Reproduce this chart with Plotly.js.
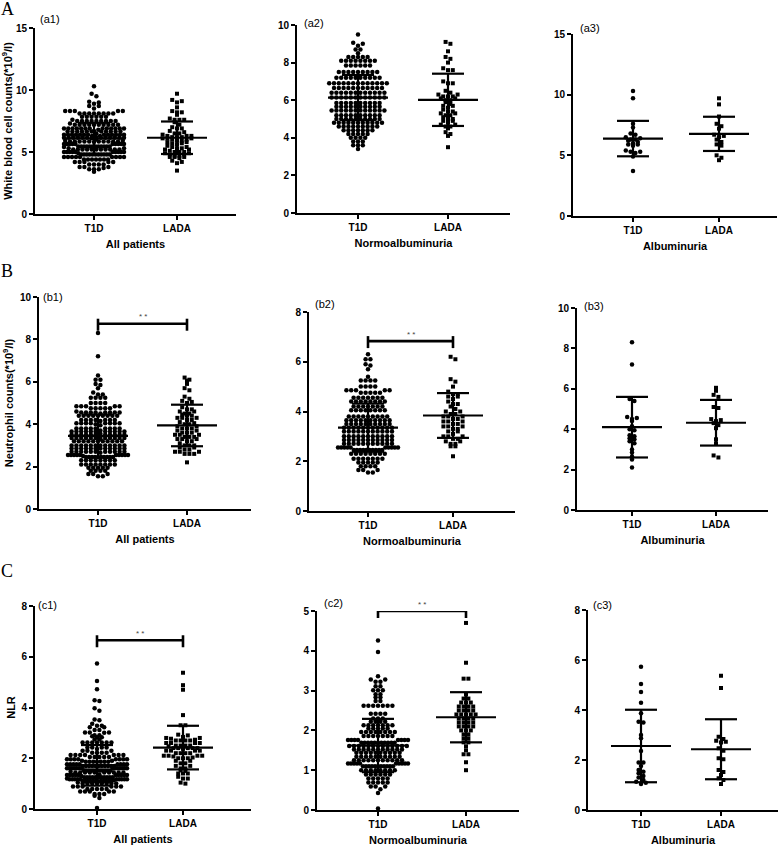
<!DOCTYPE html>
<html><head><meta charset="utf-8">
<script src="https://cdn.plot.ly/plotly-3.0.1.min.js"></script>
<style>body{margin:0;background:#fff}#chart{width:778px;height:847px}</style>
</head><body><div id="chart"></div>
<script>
// ---------------- DATA ----------------
const groups = ['T1D', 'LADA'];
const subsetTitles = ['All patients', 'Normoalbuminuria', 'Albuminuria'];
const measureTitles = ['White blood cell counts(*10<sup>9</sup>/l)', 'Neutrophil counts(*10<sup>9</sup>/l)', 'NLR'];
const panelLabels = ['(a1)','(a2)','(a3)','(b1)','(b2)','(b3)','(c1)','(c2)','(c3)'];
const rowLetters = ['A','B','C'];

// White blood cell counts
const wbcT1dNormo = [9.5, 9.05, 9.0, 8.9, 8.7, 8.7, 8.5,
 8.3, 8.3, 8.3, 8.3, 8.3,
 8.1, 8.1, 8.1, 8.1, 8.1, 8.1, 8.1, 8.1,
 7.85, 7.85, 7.85, 7.85, 7.85, 7.85,
 7.5, 7.5, 7.5, 7.5, 7.5, 7.5, 7.5, 7.5, 7.5,
 7.2, 7.2, 7.2, 7.2, 7.2, 7.2, 7.2, 7.2, 7.2, 7.2,
 6.9, 6.9, 6.9, 6.9, 6.9, 6.9, 6.9, 6.9, 6.9, 6.9, 6.9, 6.9, 6.9,
 6.65, 6.65, 6.65, 6.65, 6.65, 6.65, 6.65, 6.65, 6.65, 6.65, 6.65,
 6.4, 6.4, 6.4, 6.4, 6.4, 6.4, 6.4, 6.4, 6.4, 6.4, 6.4, 6.4,
 6.15, 6.15, 6.15, 6.15, 6.15, 6.15, 6.15, 6.15, 6.15, 6.15, 6.15, 6.15,
 5.85, 5.85, 5.85, 5.85, 5.85, 5.85, 5.85, 5.85, 5.85, 5.85,
 5.65, 5.65, 5.65, 5.65, 5.65, 5.65, 5.65, 5.65, 5.65, 5.65,
 5.45, 5.45, 5.45, 5.45, 5.45, 5.45, 5.45, 5.45, 5.45, 5.45, 5.45, 5.45,
 5.2, 5.2, 5.2, 5.2, 5.2, 5.2, 5.2, 5.2, 5.2, 5.2,
 5.0, 5.0, 5.0, 5.0, 5.0, 5.0, 5.0, 5.0, 5.0, 5.0,
 4.8, 4.8, 4.8, 4.8, 4.8, 4.8, 4.8, 4.8, 4.8, 4.8, 4.8,
 4.6, 4.6, 4.6, 4.6, 4.6, 4.6, 4.6, 4.6, 4.6,
 4.4, 4.4, 4.4, 4.4, 4.4, 4.4, 4.4,
 4.2, 4.2, 4.2, 4.2, 4.2,
 4.0, 4.0, 4.0, 4.0,
 3.8, 3.8, 3.8,
 3.6, 3.6, 3.6,
 3.4];
const wbcLadaNormo = [9.1, 9.0, 8.6, 8.3, 8.2, 8.0, 7.7, 7.6, 7.6, 7.0, 6.9, 6.9, 6.5, 6.4, 6.3, 6.3, 6.2, 6.2, 6.2, 6.1,
 6.1, 6.0, 6.0, 5.9, 5.8, 5.7, 5.7, 5.6, 5.5, 5.4, 5.4, 5.3, 5.3, 5.2, 5.2, 5.1, 5.0, 5.0, 4.9, 4.9,
 4.8, 4.7, 4.7, 4.6, 4.6, 4.5, 4.3, 4.2, 4.1, 3.5];
const wbcT1dAlbu = [10.3, 9.7, 7.6, 7.3, 6.8, 6.7, 6.5, 6.4, 6.3, 6.3, 6.2, 6.1, 6.0, 5.9, 5.9, 5.8, 5.4, 5.3, 5.3, 5.2, 4.9, 3.7];
const wbcLadaAlbu = [9.7, 9.2, 8.2, 7.6, 7.4, 7.2, 6.7, 6.6, 6.5, 6.3, 6.1, 5.9, 5.8, 5.0, 4.8, 4.6];

// Neutrophil counts
const neutT1dNormo = [6.3, 6.1, 6.1, 5.9, 5.85, 5.7, 5.4,
 5.25, 5.25, 5.25, 5.25,
 5.0, 5.0, 5.0, 5.0,
 4.85, 4.85, 4.85, 4.85, 4.85,
 4.75, 4.75, 4.75, 4.75, 4.75,
 4.55, 4.55, 4.55, 4.55, 4.55, 4.55, 4.55,
 4.4, 4.4, 4.4, 4.4, 4.4, 4.4, 4.4, 4.4,
 4.2, 4.2, 4.2, 4.2, 4.2, 4.2, 4.2,
 4.05, 4.05, 4.05, 4.05, 4.05, 4.05, 4.05, 4.05,
 3.8, 3.8, 3.8, 3.8, 3.8, 3.8, 3.8, 3.8, 3.8,
 3.65, 3.65, 3.65, 3.65, 3.65, 3.65, 3.65, 3.65, 3.65, 3.65,
 3.5, 3.5, 3.5, 3.5, 3.5, 3.5, 3.5, 3.5, 3.5, 3.5,
 3.35, 3.35, 3.35, 3.35, 3.35, 3.35, 3.35, 3.35, 3.35, 3.35, 3.35,
 3.2, 3.2, 3.2, 3.2, 3.2, 3.2, 3.2, 3.2, 3.2, 3.2, 3.2,
 3.0, 3.0, 3.0, 3.0, 3.0, 3.0, 3.0, 3.0, 3.0, 3.0, 3.0,
 2.85, 2.85, 2.85, 2.85, 2.85, 2.85, 2.85, 2.85, 2.85, 2.85, 2.85,
 2.7, 2.7, 2.7, 2.7, 2.7, 2.7, 2.7, 2.7, 2.7, 2.7, 2.7,
 2.55, 2.55, 2.55, 2.55, 2.55, 2.55, 2.55, 2.55, 2.55, 2.55,
 2.45, 2.45, 2.45, 2.45, 2.45, 2.45, 2.45, 2.45, 2.45, 2.45,
 2.3, 2.3, 2.3, 2.3, 2.3, 2.3, 2.3, 2.3,
 2.1, 2.1, 2.1, 2.1, 2.1, 2.1, 2.1,
 1.95, 1.95, 1.95, 1.95, 1.95,
 1.8, 1.8, 1.8, 1.8,
 1.65, 1.65, 1.65,
 1.55, 1.55];
const neutLadaNormo = [6.2, 6.1, 5.3, 5.2, 5.0, 4.8, 4.7, 4.7, 4.6, 4.6, 4.5, 4.4, 4.3, 4.3, 4.2, 4.1, 4.0, 4.0, 3.9, 3.9,
 3.8, 3.8, 3.8, 3.7, 3.7, 3.6, 3.6, 3.6, 3.5, 3.5, 3.4, 3.4, 3.4, 3.3, 3.3, 3.2, 3.2, 3.1, 3.0, 3.0,
 3.0, 2.9, 2.9, 2.8, 2.8, 2.7, 2.7, 2.6, 2.6, 2.2];
const neutT1dAlbu = [8.3, 7.2, 5.5, 5.4, 4.6, 4.55, 4.5, 4.4, 4.15, 4.0, 3.95, 3.7, 3.65, 3.55, 3.5, 3.4, 3.3, 3.0, 2.85, 2.65, 2.5, 2.1];
const neutLadaAlbu = [6.05, 5.9, 5.7, 5.6, 5.1, 5.05, 4.5, 4.45, 4.4, 4.3, 4.2, 4.05, 3.5, 3.3, 2.7, 2.6];

// NLR
const nlrT1dNormo = [4.26, 3.97, 3.36, 3.28, 3.28, 3.22, 3.22, 3.11, 3.11, 3.01, 3.01, 3.01, 2.91, 2.91, 2.83, 2.83, 2.74, 2.74,
 2.62, 2.62, 2.62, 2.62, 2.62, 2.62, 2.62,
 2.42, 2.42, 2.42, 2.42,
 2.3, 2.3, 2.3,
 2.22, 2.22, 2.22, 2.22,
 2.13, 2.13, 2.13, 2.13, 2.13, 2.13, 2.13,
 2.05, 2.05, 2.05, 2.05, 2.05,
 1.96, 1.96, 1.96, 1.96, 1.96, 1.96, 1.96, 1.96,
 1.86, 1.86, 1.86, 1.86, 1.86, 1.86, 1.86,
 1.76, 1.76, 1.76, 1.76, 1.76, 1.76, 1.76, 1.76,
 1.69, 1.69, 1.69, 1.69, 1.69, 1.69, 1.69, 1.69, 1.69, 1.69, 1.69,
 1.61, 1.61, 1.61, 1.61, 1.61, 1.61, 1.61, 1.61, 1.61, 1.61, 1.61, 1.61, 1.61,
 1.52, 1.52, 1.52, 1.52, 1.52, 1.52, 1.52, 1.52, 1.52, 1.52, 1.52,
 1.44, 1.44, 1.44, 1.44, 1.44, 1.44, 1.44, 1.44, 1.44, 1.44,
 1.34, 1.34, 1.34, 1.34, 1.34, 1.34, 1.34, 1.34, 1.34, 1.34,
 1.25, 1.25, 1.25, 1.25, 1.25, 1.25, 1.25, 1.25, 1.25, 1.25, 1.25,
 1.17, 1.17, 1.17, 1.17, 1.17, 1.17, 1.17, 1.17, 1.17, 1.17,
 1.1, 1.1, 1.1, 1.1, 1.1, 1.1, 1.1, 1.1, 1.1, 1.1, 1.1,
 1.0, 1.0, 1.0, 1.0, 1.0, 1.0, 1.0, 1.0,
 0.89, 0.89, 0.89, 0.89, 0.89, 0.89,
 0.79, 0.79, 0.79, 0.79, 0.79,
 0.69, 0.69, 0.69, 0.69, 0.69,
 0.59, 0.59, 0.59,
 0.52, 0.43, 0.04];
const nlrLadaNormo = [4.7, 3.7, 3.3, 3.3, 2.9, 2.8, 2.8, 2.7, 2.7, 2.7, 2.6, 2.6, 2.6, 2.6, 2.5, 2.5, 2.5, 2.5, 2.4, 2.4,
 2.4, 2.4, 2.4, 2.3, 2.3, 2.3, 2.3, 2.2, 2.2, 2.2, 2.2, 2.1, 2.1, 2.1, 2.1, 2.0, 2.0, 2.0, 1.9, 1.9,
 1.8, 1.8, 1.7, 1.7, 1.6, 1.5, 1.4, 1.4, 1.2, 1.0];
const nlrT1dAlbu = [5.73, 5.04, 4.72, 4.29, 3.87, 3.53, 3.5, 3.0, 2.87, 2.36, 1.9, 1.9, 1.76, 1.6, 1.53, 1.47, 1.36, 1.3, 1.2, 1.13, 1.09, 1.04];
const nlrLadaAlbu = [5.37, 4.88, 2.93, 2.84, 2.77, 2.73, 2.7, 2.47, 2.37, 2.07, 2.03, 1.6, 1.52, 1.4, 1.27, 1.2, 1.04];

// Mean and SD lines as drawn ([T1D, LADA])
const wbcMeanAll = [6.1, 6.15],   wbcSdAll = [1.25, 1.31];
const wbcMeanNormo = [6.14, 6.02], wbcSdNormo = [1.2, 1.39];
const wbcMeanAlbu = [6.38, 6.77], wbcSdAlbu = [1.46, 1.41];
const neutMeanAll = [3.45, 3.94], neutSdAll = [1.0, 0.98];
const neutMeanNormo = [3.35, 3.84], neutSdNormo = [0.97, 0.9];
const neutMeanAlbu = [4.1, 4.32], neutSdAlbu = [1.5, 1.13];
const nlrMeanAll = [1.72, 2.42], nlrSdAll = [0.8, 0.86];
const nlrMeanNormo = [1.62, 2.33], nlrSdNormo = [0.67, 0.63];
const nlrMeanAlbu = [2.56, 2.43], nlrSdAlbu = [1.45, 1.2];

// Significance brackets
const sigPanels = [3, 4, 6, 7];
const sigHeights = [8.74, 6.83, 6.65, 5.0];
const sigLabels = ['* *', '* *', '* *', '* *'];

// ---------------- LAYOUT GEOMETRY (pixels) ----------------
const W = 778, H = 847;
// [left, right, top, bottom, xT1D, xLADA, ymax, dtick]
const geom = [
  [35, 236, 28, 214, 94, 177, 15, 5],
  [297, 510, 25, 213, 358, 448, 10, 2],
  [573, 777, 34, 216, 633, 719, 15, 5],
  [39, 251, 297, 509, 98, 187, 10, 2],
  [309, 515, 312, 511, 368, 453, 8, 2],
  [577, 768, 308, 510, 632, 716, 10, 2],
  [35, 251, 606, 809, 97, 183, 8, 2],
  [317, 519, 611, 810, 378, 466, 5, 1],
  [588, 778, 610, 810, 641, 721, 8, 2]
];
const labelPos = [[50,19],[314,23],[590,28],[53,297],[325,304],[594,306],[47,605],[333,603],[602,605]];
const letterPos = [[7,9],[7,271],[7,571]];
const ROW_H = 3.0, DOT_DX = 4.8, MAX_W = 60;

const panelSeries = [
  [wbcT1dNormo.concat(wbcT1dAlbu), wbcLadaNormo.concat(wbcLadaAlbu), wbcMeanAll, wbcSdAll],
  [wbcT1dNormo, wbcLadaNormo, wbcMeanNormo, wbcSdNormo],
  [wbcT1dAlbu, wbcLadaAlbu, wbcMeanAlbu, wbcSdAlbu],
  [neutT1dNormo.concat(neutT1dAlbu), neutLadaNormo.concat(neutLadaAlbu), neutMeanAll, neutSdAll],
  [neutT1dNormo, neutLadaNormo, neutMeanNormo, neutSdNormo],
  [neutT1dAlbu, neutLadaAlbu, neutMeanAlbu, neutSdAlbu],
  [nlrT1dNormo.concat(nlrT1dAlbu), nlrLadaNormo.concat(nlrLadaAlbu), nlrMeanAll, nlrSdAll],
  [nlrT1dNormo, nlrLadaNormo, nlrMeanNormo, nlrSdNormo],
  [nlrT1dAlbu, nlrLadaAlbu, nlrMeanAlbu, nlrSdAlbu]
];

// Prism-like scatter: dots grouped into rows (greedy from the top), spread evenly across each row
function swarm(vals, yPx) {
  const idx = vals.map((v, i) => i).sort((a, b) => vals[b] - vals[a]);
  const rows = [];
  let cur = null, top = null;
  idx.forEach(i => {
    if (cur === null || (top - vals[i]) * yPx >= ROW_H) { cur = []; rows.push(cur); top = vals[i]; }
    cur.push(i);
  });
  const out = new Array(vals.length);
  rows.forEach(list => {
    const n = list.length;
    let s = DOT_DX;
    if ((n - 1) * s > MAX_W) s = MAX_W / (n - 1);
    const order = [];
    for (let a = 0, b = n - 1; a <= b; a++, b--) { order.push(a); if (a !== b) order.push(b); }
    list.forEach((i, j) => { out[i] = (order[j] - (n - 1) / 2) * s; });
  });
  return out;
}

const FONT = 'Liberation Sans, Arial, sans-serif';
const traces = [];
const layout = {
  width: W, height: H, margin: {l: 0, r: 0, t: 0, b: 0},
  paper_bgcolor: '#fff', plot_bgcolor: 'rgba(0,0,0,0)', showlegend: false,
  font: {family: FONT, color: '#000'},
  annotations: []
};

geom.forEach((g, p) => {
  const [L, R, T, B, xa, xb, ymax, dtick] = g;
  const k = p + 1;
  const xr = 'x' + (k === 1 ? '' : k), yr = 'y' + (k === 1 ? '' : k);
  const sp = xb - xa;               // px per x unit
  const yPx = (B - T) / ymax;       // px per y unit
  const row = Math.floor(p / 3), col = p % 3;
  const [t1d, lada, mean, sd] = panelSeries[p];

  [t1d, lada].forEach((vals, gi) => {
    const off = swarm(vals, yPx);
    traces.push({
      type: 'scatter', mode: 'markers', xaxis: xr, yaxis: yr, cliponaxis: false, hoverinfo: 'skip',
      x: vals.map((v, i) => gi + 1 + off[i] / sp), y: vals,
      marker: {symbol: gi === 0 ? 'circle' : 'square', size: gi === 0 ? 4.5 : 4.0, color: '#000', line: {width: 0}}
    });
  });

  // mean and SD lines
  const lx = [], ly = [];
  const mh = 30 / sp, sh = 16 / sp;
  [0, 1].forEach(gi => {
    const c = gi + 1, m = mean[gi], s = sd[gi];
    lx.push(c - mh, c + mh, null, c - sh, c + sh, null, c - sh, c + sh, null, c, c, null);
    ly.push(m, m, null, m + s, m + s, null, m - s, m - s, null, m - s, m + s, null);
  });
  traces.push({type: 'scatter', mode: 'lines', xaxis: xr, yaxis: yr, x: lx, y: ly, hoverinfo: 'skip',
    line: {color: '#000', width: 2.2}});

  // significance bracket
  const si = sigPanels.indexOf(p);
  if (si >= 0) {
    const h = sigHeights[si], up = 5 / yPx, dn = 7 / yPx;
    traces.push({type: 'scatter', mode: 'lines', xaxis: xr, yaxis: yr, hoverinfo: 'skip', cliponaxis: false,
      x: [1, 2, null, 1, 1, null, 2, 2], y: [h, h, null, h - dn, h + up, null, h - dn, h + up],
      line: {color: '#000', width: 2.6}});
    layout.annotations.push({xref: xr, yref: yr, x: 1.5, y: h, yshift: 7, text: sigLabels[si], showarrow: false,
      font: {size: 8, color: '#444', family: FONT}, xanchor: 'center', yanchor: 'middle'});
  }

  const xRange = [1 - (xa - L) / sp, 2 + (R - xb) / sp];
  layout['xaxis' + (k === 1 ? '' : k)] = {
    domain: [L / W, R / W], anchor: yr, range: xRange, tickvals: [1, 2], ticktext: groups,
    showline: true, linewidth: 2, linecolor: '#000', ticks: 'outside', ticklen: 4, tickwidth: 2, tickcolor: '#000',
    showgrid: false, zeroline: false, fixedrange: true,
    tickfont: {family: FONT, size: 10, weight: 'bold', color: '#000'},
    title: {text: subsetTitles[col], standoff: 7, font: {family: FONT, size: 11, weight: 'bold', color: '#000'}}
  };
  const yax = {
    domain: [1 - B / H, 1 - T / H], anchor: xr, range: [0, ymax], tick0: 0, dtick: dtick,
    showline: true, linewidth: 2, linecolor: '#000', ticks: 'outside', ticklen: 4, tickwidth: 2, tickcolor: '#000',
    showgrid: false, zeroline: false, fixedrange: true,
    tickfont: {family: FONT, size: 10, weight: 'bold', color: '#000'}
  };
  if (col === 0) {
    yax.title = {text: measureTitles[row], standoff: 4, font: {family: FONT, size: 11, weight: 'bold', color: '#000'}};
  }
  layout['yaxis' + (k === 1 ? '' : k)] = yax;

  layout.annotations.push({xref: 'paper', yref: 'paper', x: labelPos[p][0] / W, y: 1 - labelPos[p][1] / H,
    text: panelLabels[p], showarrow: false, xanchor: 'center', yanchor: 'middle',
    font: {family: FONT, size: 11, color: '#000'}});
});

rowLetters.forEach((t, i) => {
  layout.annotations.push({xref: 'paper', yref: 'paper', x: letterPos[i][0] / W, y: 1 - letterPos[i][1] / H,
    text: t, showarrow: false, xanchor: 'center', yanchor: 'middle',
    font: {family: 'Liberation Serif, Times New Roman, serif', size: 18, color: '#000'}});
});

Plotly.newPlot('chart', traces, layout, {staticPlot: true, displayModeBar: false});
</script>
</body></html>
